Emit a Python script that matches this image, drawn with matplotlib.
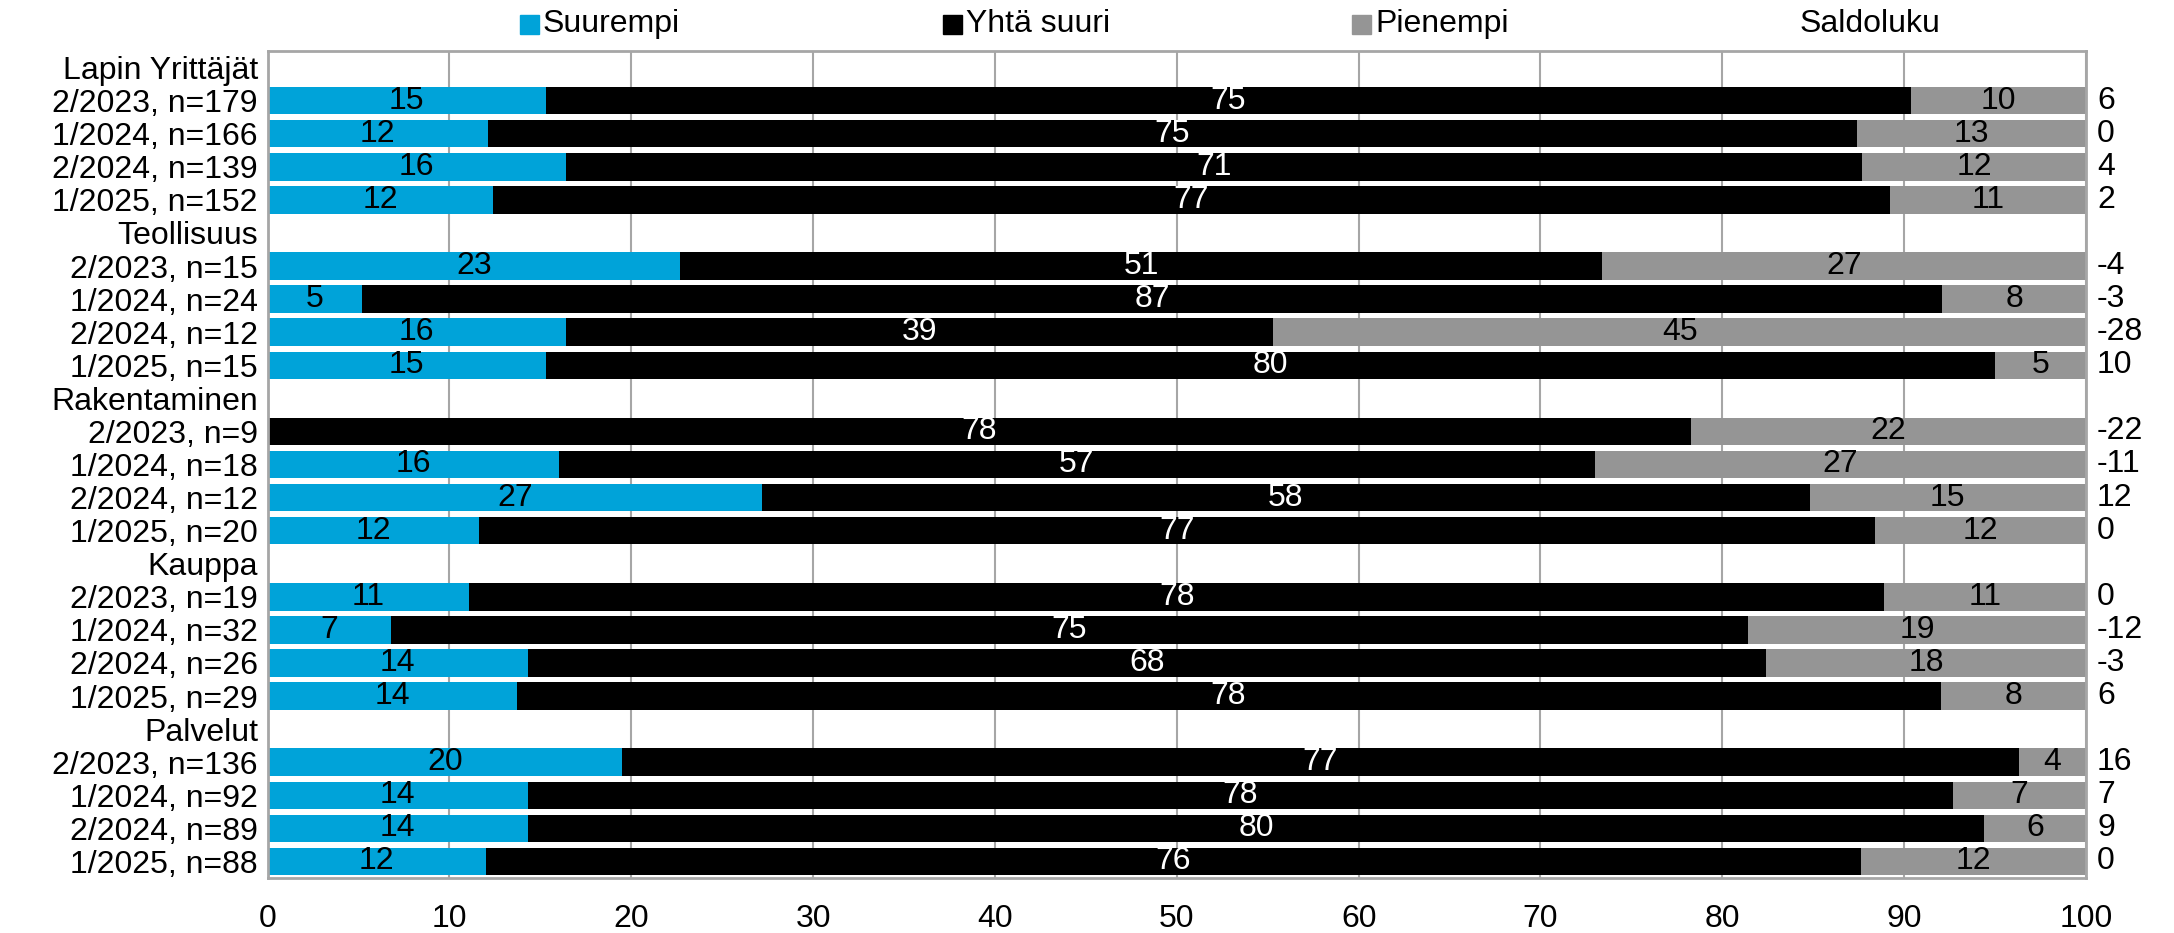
import matplotlib
matplotlib.use("Agg")
import matplotlib.pyplot as plt
from matplotlib.patches import Rectangle

plt.rcParams['font.family'] = ['Liberation Sans', 'DejaVu Sans']

groups = ["Lapin Yrittäjät", "Teollisuus", "Rakentaminen", "Kauppa", "Palvelut"]
periods = {
    "Lapin Yrittäjät": ["2/2023, n=179", "1/2024, n=166", "2/2024, n=139", "1/2025, n=152"],
    "Teollisuus": ["2/2023, n=15", "1/2024, n=24", "2/2024, n=12", "1/2025, n=15"],
    "Rakentaminen": ["2/2023, n=9", "1/2024, n=18", "2/2024, n=12", "1/2025, n=20"],
    "Kauppa": ["2/2023, n=19", "1/2024, n=32", "2/2024, n=26", "1/2025, n=29"],
    "Palvelut": ["2/2023, n=136", "1/2024, n=92", "2/2024, n=89", "1/2025, n=88"],
}

suurempi = [15.3, 12.1, 16.4, 12.4,
            22.7, 5.2, 16.4, 15.3,
            0.0, 16.0, 27.2, 11.6,
            11.1, 6.8, 14.3, 13.7,
            19.5, 14.3, 14.3, 12.0]
yhta_suuri = [75.1, 75.3, 71.3, 76.8,
              50.7, 86.9, 38.9, 79.7,
              78.3, 57.0, 57.6, 76.8,
              77.8, 74.6, 68.1, 78.3,
              76.8, 78.4, 80.1, 75.6]
pienempi = [9.6, 12.6, 12.3, 10.8,
            26.6, 7.9, 44.7, 5.0,
            21.7, 27.0, 15.2, 11.6,
            11.1, 18.6, 17.6, 8.0,
            3.7, 7.3, 5.6, 12.4]
saldoluku = ["6", "0", "4", "2",
             "-4", "-3", "-28", "10",
             "-22", "-11", "12", "0",
             "0", "-12", "-3", "6",
             "16", "7", "9", "0"]

series_names = ["Suurempi", "Yhtä suuri", "Pienempi"]
colors = ["#00A3D9", "#000000", "#959595"]
text_colors = ["black", "white", "black"]

# build rows
row_labels = []
data_rows = []  # (row index, data index)
k = 0
for g in groups:
    row_labels.append(g)
    for p in periods[g]:
        data_rows.append((len(row_labels), k))
        row_labels.append(p)
        k += 1

FS = 23
fig = plt.figure(figsize=(21.74, 9.33), dpi=100)
ax = fig.add_axes([267.6 / 2174, 1 - 878 / 933, (2086 - 267.6) / 2174, (878 - 51) / 933])

ypos = [r for r, _ in data_rows]
left = [0.0] * len(ypos)
for vals, col, tc in zip([suurempi, yhta_suuri, pienempi], colors, text_colors):
    v = [vals[i] for _, i in data_rows]
    bars = ax.barh(ypos, v, left=left, height=0.83, color=col, edgecolor='none', zorder=2)
    for b, val in zip(bars, v):
        if val >= 0.5:
            ax.text(b.get_x() + b.get_width() / 2, b.get_y() + b.get_height() / 2,
                    f"{val:.0f}", ha='center', va='center', color=tc, fontsize=FS, zorder=3)
    left = [l + x for l, x in zip(left, v)]

for r, i in data_rows:
    ax.annotate(saldoluku[i], xy=(1.0, r), xycoords=('axes fraction', 'data'),
                xytext=(8, 0), textcoords='offset points', ha='left', va='center',
                fontsize=FS, annotation_clip=False)

ax.set_xlim(0, 100)
ax.set_ylim(len(row_labels) - 0.5, -0.5)
ax.set_yticks(range(len(row_labels)))
ax.set_yticklabels(row_labels, fontsize=FS)
ax.set_xticks(range(0, 101, 10))
ax.tick_params(axis='x', labelsize=FS, length=0, pad=19)
ax.tick_params(axis='y', length=0, pad=7)
ax.grid(axis='x', color='#A6A6A6', linewidth=1.5, zorder=0)
ax.set_axisbelow(True)
for s in ax.spines.values():
    s.set_color('#A6A6A6')
    s.set_linewidth(2)

# legend
leg_names = series_names + ["Saldoluku"]
leg_colors = colors + [None]
leg_x = [520, 943, 1352, 1777]
for name, col, x in zip(leg_names, leg_colors, leg_x):
    yc = 24
    if col is not None:
        fig.add_artist(Rectangle((x / 2174, 1 - (yc + 9.5) / 933), 19 / 2174, 19 / 933,
                                 transform=fig.transFigure, color=col))
    fig.text((x + 23) / 2174, 1 - yc / 933, name, ha='left', va='center', fontsize=FS)

fig.savefig("out.png", dpi=100)
